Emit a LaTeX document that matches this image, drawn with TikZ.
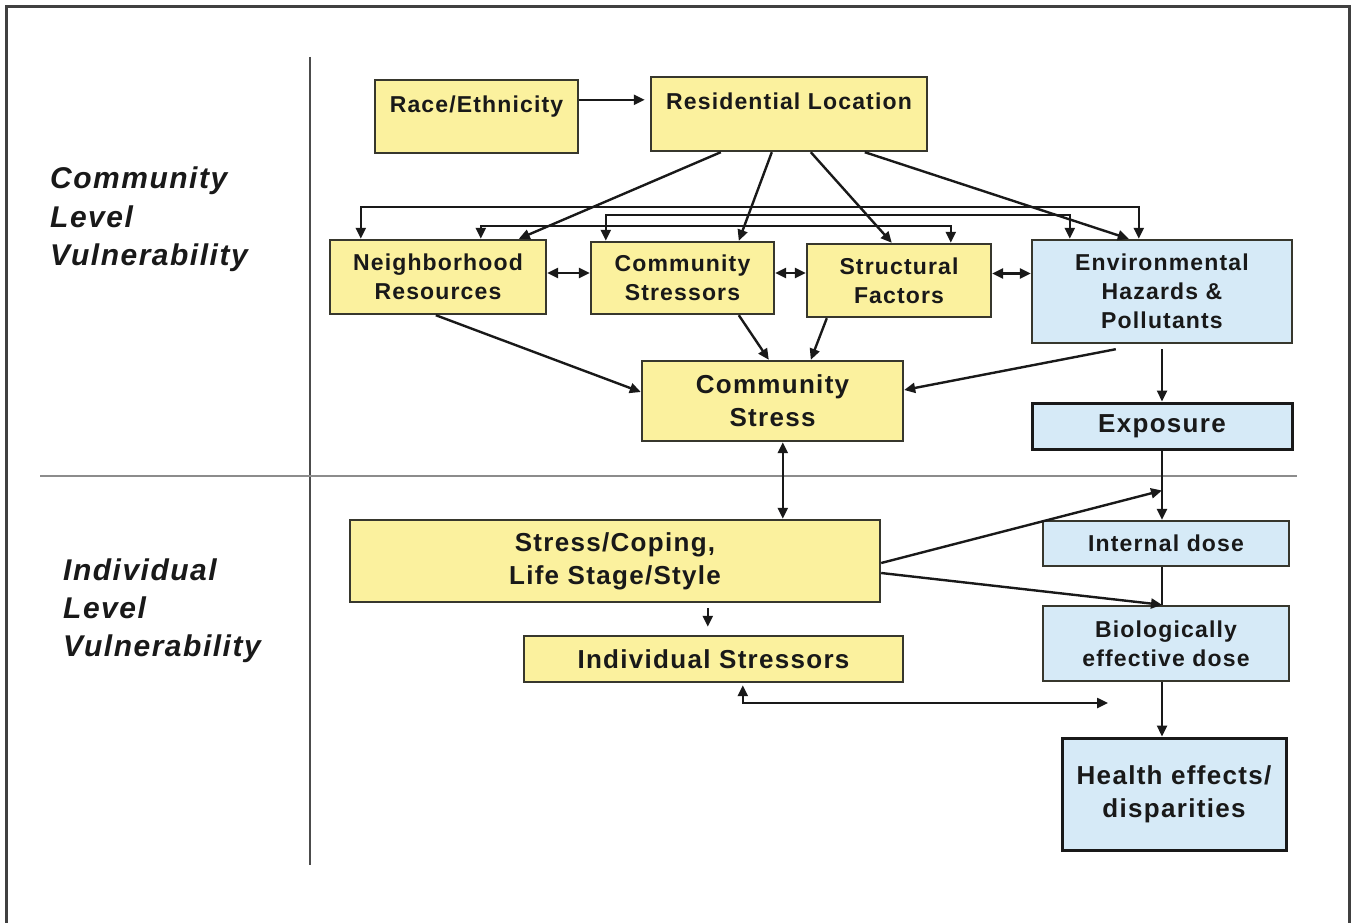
\documentclass[tikz,border=0pt]{standalone}
\usepackage{fontspec}
\setmainfont{Liberation Sans}
\newfontfamily\spacedfont[LetterSpace=5]{Liberation Sans}
\newfontfamily\labfont[LetterSpace=5]{Liberation Sans}
\usetikzlibrary{arrows.meta,calc}
\definecolor{boxyellow}{RGB}{251,241,158}
\definecolor{boxblue}{RGB}{214,234,247}
\definecolor{edgegray}{RGB}{55,55,45}
\definecolor{txt}{RGB}{25,25,25}
\begin{document}
\begin{tikzpicture}[x=1pt,y=-1pt,
  ybox/.style={draw=edgegray, line width=2.4pt, fill=boxyellow, inner sep=0pt, align=center, text=txt},
  bbox/.style={ybox, fill=boxblue},
  thickbox/.style={line width=3pt, draw=black!90},
  smalltext/.style={font=\spacedfont\fontsize{23}{29}\selectfont\bfseries},
  bigtext/.style={font=\spacedfont\fontsize{26}{33}\selectfont\bfseries},
  arr/.style={line width=2.4pt, draw=black!90, -{Triangle[length=11pt,width=10pt]}},
  darr/.style={line width=2.4pt, draw=black!90, {Triangle[length=11pt,width=10pt]}-{Triangle[length=11pt,width=10pt]}},
  plainline/.style={line width=2.4pt, draw=black!90},
  sidelab/.style={font=\labfont\fontsize{30}{38}\selectfont\bfseries\itshape, anchor=base west, inner sep=0pt, text=txt},
]
\useasboundingbox (0,0) rectangle (1353,923);
% frame and dividers
\draw[line width=2.5pt, black!75] (6.5,930) -- (6.5,6.5) -- (1349.5,6.5) -- (1349.5,930);
\draw[line width=2.4pt, draw=black!70] (310,57) -- (310,865);
\draw[line width=2.4pt, draw=black!45] (40,476) -- (1297,476);

% side labels
\node[sidelab] (cl1) at (50,189) {Community};
\node[sidelab] (cl2) at (50,227) {Level};
\node[sidelab] (cl3) at (50,265) {Vulnerability};
\node[sidelab] (il1) at (63,580) {Individual};
\node[sidelab] (il2) at (63,618) {Level};
\node[sidelab] (il3) at (63,656) {Vulnerability};

% boxes
\node[ybox, smalltext, minimum width=203pt, text height=33pt, text depth=40pt] (race) at (476.5,116.5) {Race/Ethnicity};
\node[ybox, smalltext, minimum width=276pt, text height=33pt, text depth=41pt] (res) at (789,114) {Residential Location};
\node[ybox, smalltext, minimum width=216pt, minimum height=74pt] (nbr) at (438,277) {Neighborhood\\Resources};
\node[ybox, smalltext, minimum width=183pt, minimum height=72pt] (cst) at (682.5,278) {Community\\Stressors};
\node[ybox, smalltext, minimum width=184pt, minimum height=73pt] (stf) at (899,280.5) {Structural\\Factors};
\node[bbox, smalltext, minimum width=260pt, minimum height=103pt] (env) at (1162,291.5) {Environmental\\Hazards \&\\Pollutants};
\node[ybox, bigtext, minimum width=261pt, minimum height=80pt] (cs) at (772.5,401) {Community\\Stress};
\node[bbox, thickbox, bigtext, minimum width=260pt, minimum height=46pt] (exp) at (1162,426) {Exposure};
\node[ybox, bigtext, minimum width=530pt, minimum height=82pt] (scl) at (615,561) {Stress/Coping,\\Life Stage/Style};
\node[ybox, bigtext, minimum width=379pt, minimum height=46pt] (ist) at (713.5,659) {Individual Stressors};
\node[bbox, smalltext, minimum width=246pt, minimum height=45pt] (idose) at (1166,543.5) {Internal dose};
\node[bbox, smalltext, minimum width=246pt, minimum height=75pt] (bio) at (1166,643.5) {Biologically\\effective dose};
\node[bbox, thickbox, bigtext, minimum width=224pt, minimum height=112pt] (hlth) at (1174,794) {Health effects/\\disparities};

% connectors: top
\draw[arr] ($(race.north east)+(0,21)$) -- ($(race.north east -| res.west)+(-5,21)$);
\draw[arr] ($(res.south west)+(71,0)$) -- ($(nbr.north west)+(190,0)$);
\draw[arr] ($(res.south west)+(122,0)$) -- ($(cst.north west)+(149,0)$);
\draw[arr] ($(res.south west)+(161,0)$) -- ($(stf.north west)+(86,0)$);
\draw[arr] ($(res.south west)+(215,0)$) -- ($(env.north west)+(98,0)$);
% buses
\draw[darr] ($(nbr.north west)+(32,0)$) -- ++(0,-32) -| ($(env.north west)+(108,0)$);
\draw[darr] ($(cst.north west)+(16,0)$) -- ++(0,-26) -| ($(env.north west)+(39,0)$);
\draw[darr] ($(nbr.north west)+(152,0)$) -- ++(0,-13) -| ($(stf.north west)+(145,0)$);
% side links
\draw[darr] ($(nbr.east)+(0,-4)$) -- ($(nbr.east -| cst.west)+(0,-4)$);
\draw[darr] ($(cst.east)+(0,-5)$) -- ($(cst.east -| stf.west)+(0,-5)$);
\draw[darr] ($(stf.east)+(0,-7)$) -- ($(stf.east -| env.west)+(0,-7)$);
% to community stress
\draw[arr] ($(nbr.south west)+(107,0)$) -- ($(cs.west)+(0,-9)$);
\draw[arr] ($(cst.south west)+(149,0)$) -- ($(cs.north west)+(128,0)$);
\draw[arr] ($(stf.south west)+(21,0)$) -- ($(cs.north west)+(170,0)$);
\draw[arr] ($(env.south west)+(85,5)$) -- ($(cs.east)+(0,-11)$);
\draw[arr] ($(env.south)+(0,5)$) -- (exp.north);
% middle
\draw[darr] ($(cs.south west)+(142,0)$) coordinate (t) -- (t |- scl.north);
\draw[arr] (exp.south) -- (exp.south |- idose.north);
\draw[arr] ($(scl.east)+(0,2)$) -- ($(exp.south)+(0,40)$);
\draw[arr] ($(scl.east)+(0,12)$) -- (exp.south |- bio.north);
\draw[plainline] (exp.south |- idose.south) -- (exp.south |- bio.north);
\draw[arr] (exp.south |- bio.south) -- (exp.south |- hlth.north);
\draw[arr, shorten >=8pt] ($(scl.south west)+(359,5)$) coordinate (u) -- (u |- ist.north);
\coordinate (fe) at (1108,703);
\draw[darr] ($(ist.south west)+(220,2)$) |- (fe);
\end{tikzpicture}
\end{document}
